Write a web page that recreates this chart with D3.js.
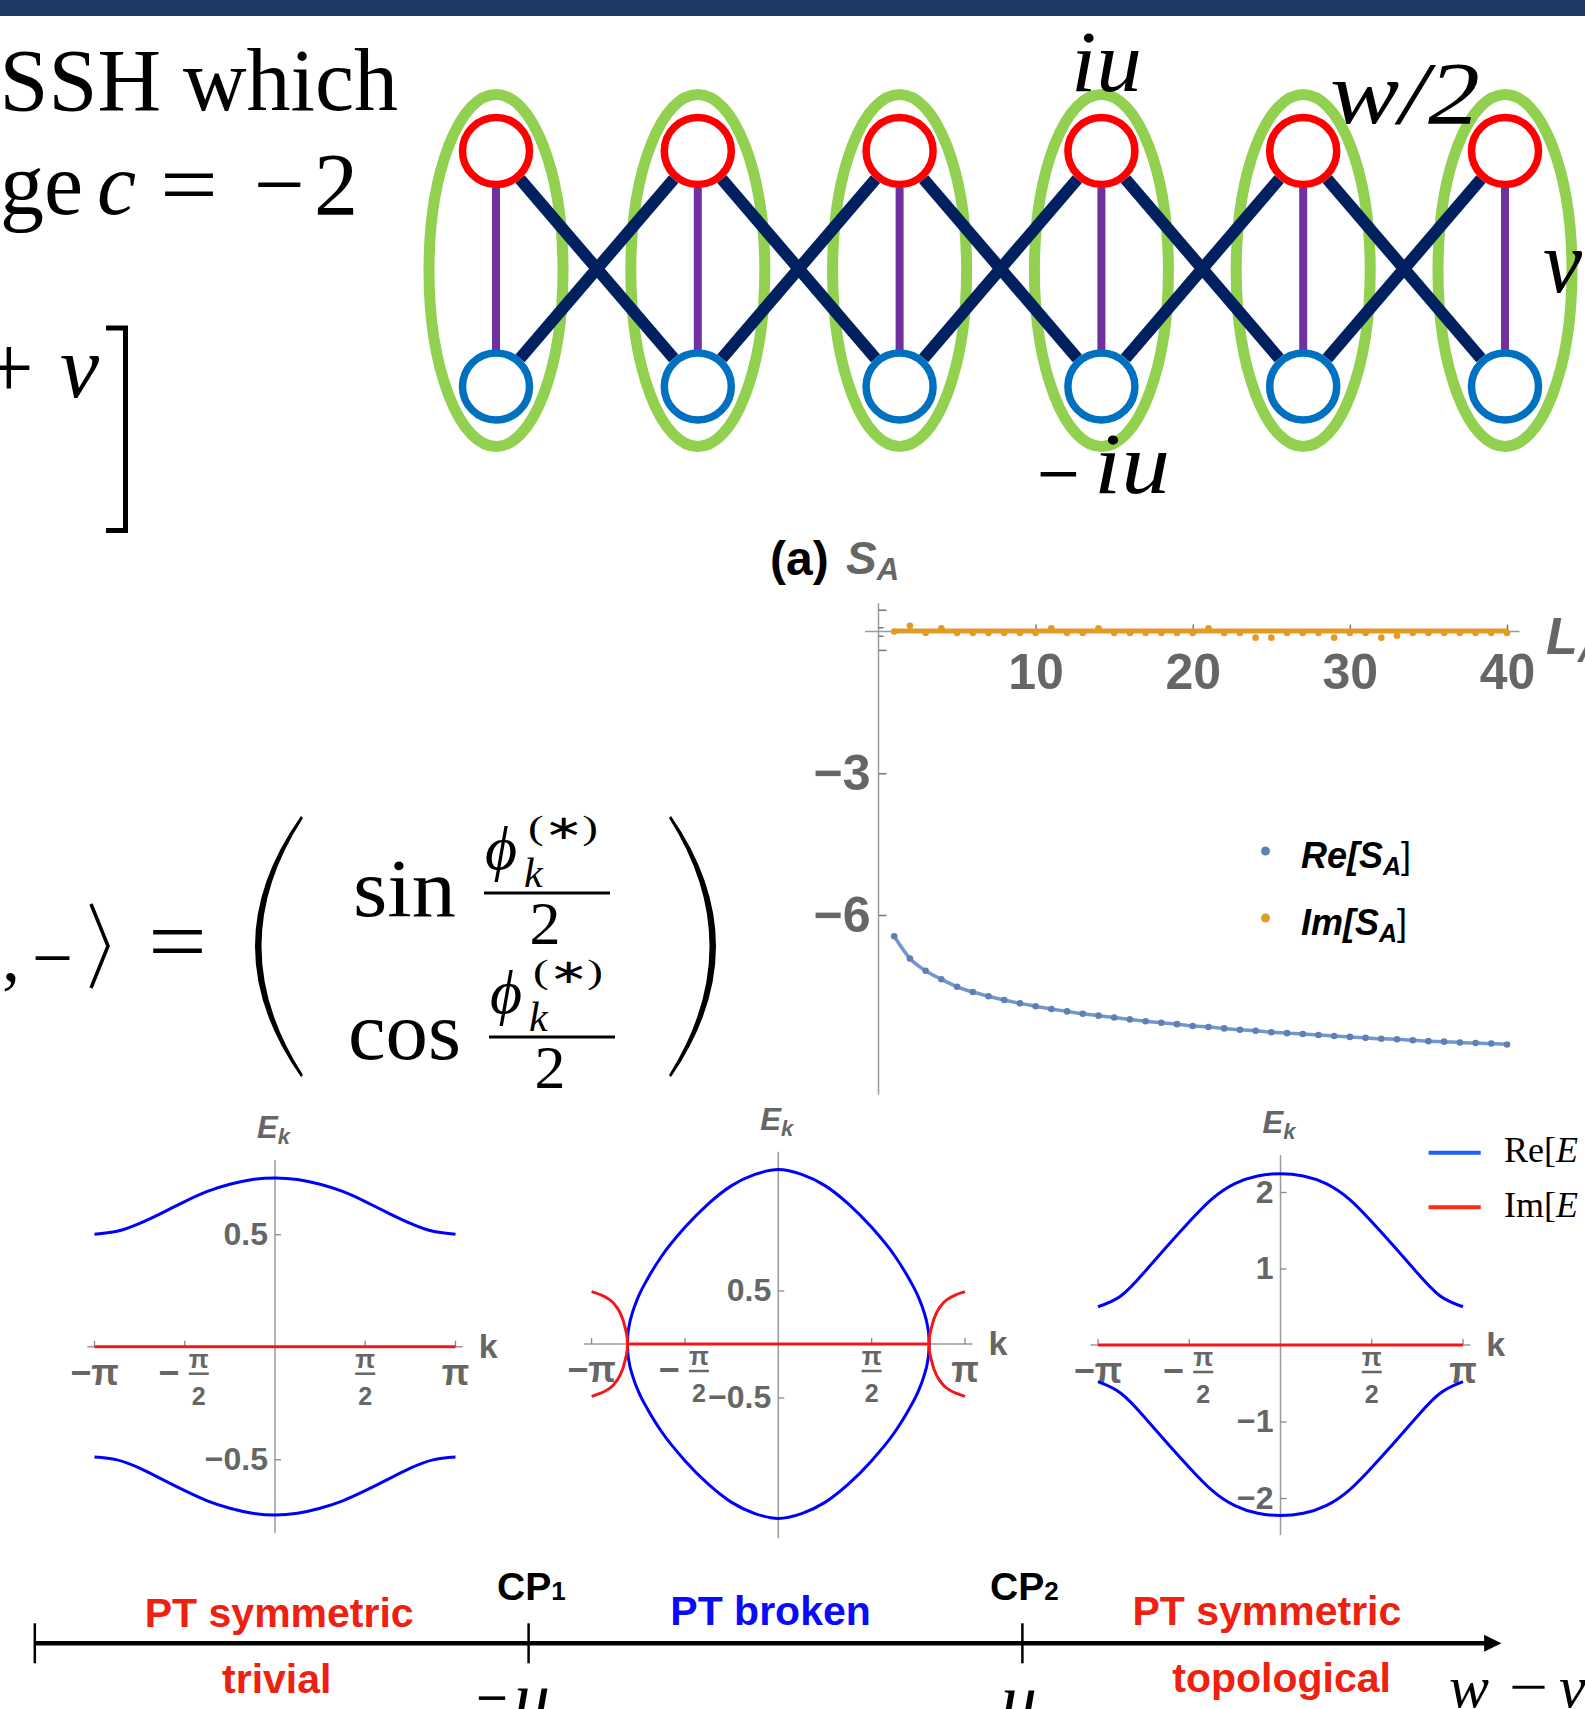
<!DOCTYPE html>
<html>
<head>
<meta charset="utf-8">
<script src="https://cdn.jsdelivr.net/npm/d3@7"></script>
<style>
  body { margin: 0; background: #fff; }
  svg { display: block; }
</style>
</head>
<body>
<svg></svg>
<script>
const width = 1585;
const height = 1709;

const svg = d3.select("svg").attr("width", width).attr("height", height);

const sans = "'Liberation Sans', Arial, Helvetica, sans-serif";
const serif = "'Liberation Serif', 'Times New Roman', serif";
const tickGray = "#666";
const axisGray = "#9a9a9a";

// ---------------- data ----------------
// cells of the ladder
const cells = [0, 1, 2, 3, 4, 5];
const bonds = [[0, 1], [1, 2], [2, 3], [3, 4], [4, 5]];

// (a) S_A against L_A
const sizeL = [1, 2, 3, 4, 5, 6, 7, 8, 9, 10, 11, 12, 13, 14, 15, 16, 17, 18, 19, 20,
  21, 22, 23, 24, 25, 26, 27, 28, 29, 30, 31, 32, 33, 34, 35, 36, 37, 38, 39, 40];
const reSA = [-6.45, -6.92, -7.18, -7.36, -7.52, -7.63, -7.72, -7.80, -7.87, -7.93,
  -7.99, -8.04, -8.09, -8.13, -8.17, -8.21, -8.25, -8.28, -8.31, -8.35,
  -8.37, -8.40, -8.43, -8.45, -8.48, -8.50, -8.52, -8.54, -8.56, -8.58,
  -8.60, -8.62, -8.63, -8.65, -8.67, -8.68, -8.70, -8.71, -8.72, -8.74];
const imSA = [0.0, 0.12, -0.03, 0.07, -0.03, -0.03, -0.03, -0.03, -0.03, -0.03,
  0.07, -0.03, -0.03, 0.07, -0.03, -0.03, -0.03, -0.03, -0.03, -0.03,
  0.07, -0.03, -0.03, -0.13, -0.13, -0.03, -0.03, -0.03, -0.13, -0.03,
  -0.03, -0.13, -0.09, -0.03, -0.03, -0.03, -0.03, -0.03, -0.03, -0.03];
const imFitL = [1, 40];
const imFit = [0.01, 0.01];
const saXTicks = [10, 20, 30, 40];
const saYTicks = [-3, -6];
const saMinorTicks = [0.45, 0.08, -0.1, -0.4];

// band plots, k in units of pi
const kTicks = [-1, -0.5, 0.5, 1];
const bandK = [-1, -0.875, -0.75, -0.625, -0.5, -0.375, -0.25, -0.125, 0,
  0.125, 0.25, 0.375, 0.5, 0.625, 0.75, 0.875, 1];
const trivialUp = [0.50, 0.513, 0.548, 0.595, 0.645, 0.69, 0.722, 0.743, 0.75,
  0.743, 0.722, 0.69, 0.645, 0.595, 0.548, 0.513, 0.50];
const trivialDown = [-0.49, -0.503, -0.54, -0.59, -0.64, -0.685, -0.718, -0.74, -0.748,
  -0.74, -0.718, -0.685, -0.64, -0.59, -0.54, -0.503, -0.49];
const topoUp = [0.50, 0.64, 0.94, 1.28, 1.61, 1.91, 2.11, 2.21, 2.24,
  2.21, 2.11, 1.91, 1.61, 1.28, 0.94, 0.64, 0.50];
const topoDown = [-0.48, -0.63, -0.93, -1.27, -1.60, -1.90, -2.10, -2.20, -2.23,
  -2.20, -2.10, -1.90, -1.60, -1.27, -0.93, -0.63, -0.48];
const flatK = [-1, 1];
const flatE = [0, 0];

// PT broken: Re band (upper and lower halves), then the Im branches
const brokenK = [-0.808, -0.806, -0.80, -0.78, -0.75, -0.70, -0.625, -0.5, -0.375, -0.25, -0.125, 0,
  0.125, 0.25, 0.375, 0.5, 0.625, 0.70, 0.75, 0.78, 0.80, 0.806, 0.808];
const brokenUp = [0, 0.08, 0.16, 0.30, 0.44, 0.61, 0.82, 1.09, 1.31, 1.48, 1.585, 1.63,
  1.585, 1.48, 1.31, 1.09, 0.82, 0.61, 0.44, 0.30, 0.16, 0.08, 0];
const brokenDown = [0, -0.08, -0.16, -0.30, -0.44, -0.61, -0.82, -1.09, -1.31, -1.48, -1.585, -1.63,
  -1.585, -1.48, -1.31, -1.09, -0.82, -0.61, -0.44, -0.30, -0.16, -0.08, 0];
const imRightK = [1, 0.95, 0.90, 0.86, 0.835, 0.82, 0.81, 0.808, 0.81, 0.82, 0.835, 0.86, 0.90, 0.95, 1];
const imRightE = [0.49, 0.46, 0.41, 0.33, 0.24, 0.15, 0.07, 0, -0.07, -0.15, -0.24, -0.33, -0.41, -0.46, -0.49];
const imLeftK = [-1, -0.95, -0.90, -0.86, -0.835, -0.82, -0.81, -0.808, -0.81, -0.82, -0.835, -0.86, -0.90, -0.95, -1];
const imLeftE = [0.49, 0.46, 0.41, 0.33, 0.24, 0.15, 0.07, 0, -0.07, -0.15, -0.24, -0.33, -0.41, -0.46, -0.49];
const imFlatK = [-0.808, 0.808];
const imFlatE = [0, 0];

// phase line
const phaseTicks = [-3, -1, 1];

// ---------------- top bar ----------------
svg.append("rect").attr("x", 0).attr("y", 0).attr("width", width).attr("height", 16)
  .attr("fill", "#203864");

// ---------------- left text ----------------
svg.append("text").attr("x", 398).attr("y", 110).attr("text-anchor", "end")
  .attr("font-family", serif).attr("font-size", 88).text("SSH which");

const line2 = svg.append("text").attr("y", 214).attr("font-family", serif).attr("font-size", 88);
line2.append("tspan").attr("x", 0).text("ge");
line2.append("tspan").attr("x", 97).attr("font-style", "italic").text("c");
line2.append("tspan").attr("x", 160).attr("textLength", 58).attr("lengthAdjust", "spacingAndGlyphs").text("=");
line2.append("tspan").attr("x", 254).attr("textLength", 51).attr("lengthAdjust", "spacingAndGlyphs").text("−");
line2.append("tspan").attr("x", 314).text("2");

const line3 = svg.append("text").attr("y", 397).attr("font-family", serif).attr("font-size", 88);
line3.append("tspan").attr("x", -16).text("+");
line3.append("tspan").attr("x", 60).attr("font-style", "italic").text("v");

svg.append("path").attr("d", "M106,328 H125.5 V530.5 H106")
  .attr("fill", "none").attr("stroke", "#000").attr("stroke-width", 5);

// ket formula
svg.append("text").attr("x", 2).attr("y", 980).attr("font-family", serif).attr("font-size", 72).text(",");
svg.append("text").attr("x", 32).attr("y", 982).attr("font-family", serif).attr("font-size", 72)
  .attr("textLength", 41).attr("lengthAdjust", "spacingAndGlyphs").text("−");
svg.append("path").attr("d", "M91,904 L108,946 L91,988")
  .attr("fill", "none").attr("stroke", "#000").attr("stroke-width", 3.5);
svg.append("text").attr("x", 148).attr("y", 972).attr("font-family", serif).attr("font-size", 92)
  .attr("textLength", 59).attr("lengthAdjust", "spacingAndGlyphs").text("=");

svg.append("path")
  .attr("d", "M301,816 Q209,946 301,1077 L303,1075 Q220,946 303,818 Z")
  .attr("fill", "#000");
svg.append("path")
  .attr("d", "M671,816 Q761,946 671,1077 L669,1075 Q750,946 669,818 Z")
  .attr("fill", "#000");

function fracRow(word, wx, wlen, base, barY, x0) {
  svg.append("text").attr("x", wx).attr("y", base).attr("font-family", serif).attr("font-size", 82)
    .attr("textLength", wlen).attr("lengthAdjust", "spacingAndGlyphs").text(word);
  svg.append("line").attr("x1", x0).attr("x2", x0 + 126).attr("y1", barY).attr("y2", barY)
    .attr("stroke", "#000").attr("stroke-width", 3);
  svg.append("text").attr("x", x0 + 1).attr("y", barY - 24).attr("font-family", serif)
    .attr("font-style", "italic").attr("font-size", 62).text("ϕ");
  svg.append("text").attr("x", x0 + 40).attr("y", barY - 6).attr("font-family", serif)
    .attr("font-style", "italic").attr("font-size", 42).text("k");
  svg.append("text").attr("x", x0 + 44).attr("y", barY - 54).attr("font-family", serif)
    .attr("font-size", 34).attr("textLength", 70).attr("lengthAdjust", "spacingAndGlyphs").text("(∗)");
  svg.append("text").attr("x", x0 + 61).attr("y", barY + 51).attr("text-anchor", "middle")
    .attr("font-family", serif).attr("font-size", 62).text("2");
}
fracRow("sin", 353, 103, 916, 893, 484);
fracRow("cos", 348, 113, 1059, 1037, 489);

// ---------------- ladder ----------------
const lx = d3.scaleLinear().domain([0, 5]).range([496, 1505]);
const cellY = 270.5, redY = 151, blueY = 386.5, siteR = 33.5;

svg.selectAll(".cell").data(cells).enter().append("ellipse")
  .attr("cx", d => lx(d)).attr("cy", cellY).attr("rx", 67).attr("ry", 176)
  .attr("fill", "none").attr("stroke", "#92d050").attr("stroke-width", 11);

const trim = 37;
function bondLine(xa, ya, xb, yb) {
  const dx = xb - xa, dy = yb - ya, len = Math.hypot(dx, dy);
  svg.append("line")
    .attr("x1", xa + dx / len * trim).attr("y1", ya + dy / len * trim)
    .attr("x2", xb - dx / len * trim).attr("y2", yb - dy / len * trim)
    .attr("stroke", "#002060").attr("stroke-width", 12);
}
bonds.forEach(b => {
  bondLine(lx(b[0]), redY, lx(b[1]), blueY);
  bondLine(lx(b[0]), blueY, lx(b[1]), redY);
});

svg.selectAll(".rung").data(cells).enter().append("line")
  .attr("x1", d => lx(d)).attr("x2", d => lx(d)).attr("y1", redY + siteR + 3).attr("y2", blueY - siteR - 3)
  .attr("stroke", "#7030a0").attr("stroke-width", 8);

svg.selectAll(".siteA").data(cells).enter().append("circle")
  .attr("cx", d => lx(d)).attr("cy", redY).attr("r", siteR)
  .attr("fill", "#fff").attr("stroke", "#ff0000").attr("stroke-width", 7.5);
svg.selectAll(".siteB").data(cells).enter().append("circle")
  .attr("cx", d => lx(d)).attr("cy", blueY).attr("r", siteR)
  .attr("fill", "#fff").attr("stroke", "#0070c0").attr("stroke-width", 7.5);

svg.append("text").attr("x", 1071).attr("y", 91).attr("font-family", serif).attr("font-style", "italic")
  .attr("font-size", 86).attr("textLength", 71).attr("lengthAdjust", "spacingAndGlyphs").text("iu");
svg.append("text").attr("x", 1330).attr("y", 123).attr("font-family", serif).attr("font-style", "italic")
  .attr("font-size", 88).attr("textLength", 150).attr("lengthAdjust", "spacingAndGlyphs").text("w/2");
svg.append("text").attr("x", 1543).attr("y", 292).attr("font-family", serif).attr("font-style", "italic")
  .attr("font-size", 88).text("v");
svg.append("text").attr("x", 1037).attr("y", 503).attr("font-family", serif).attr("font-size", 86)
  .attr("textLength", 43).attr("lengthAdjust", "spacingAndGlyphs").text("−");
svg.append("text").attr("x", 1094).attr("y", 493).attr("font-family", serif).attr("font-size", 86)
  .attr("font-style", "italic").attr("textLength", 76).attr("lengthAdjust", "spacingAndGlyphs").text("iu");

// ---------------- (a) S_A ----------------
const xa = d3.scaleLinear().domain([0, 40]).range([878.5, 1507]);
const ya = d3.scaleLinear().domain([0, -6]).range([631.5, 915]);

const ga = svg.append("g");
ga.append("line").attr("x1", xa(-0.85)).attr("x2", xa(40.8)).attr("y1", ya(0)).attr("y2", ya(0))
  .attr("stroke", axisGray).attr("stroke-width", 1.5);
ga.append("line").attr("x1", xa(0)).attr("x2", xa(0)).attr("y1", ya(0.6)).attr("y2", ya(-9.8))
  .attr("stroke", axisGray).attr("stroke-width", 1.5);

const xAxisA = d3.axisBottom(xa).tickValues(saXTicks).tickSizeInner(-7).tickSizeOuter(0).tickPadding(22);
ga.append("g").attr("transform", `translate(0,${ya(0)})`).call(xAxisA)
  .call(g => g.select(".domain").remove())
  .call(g => g.selectAll("line").attr("stroke", "#777").attr("stroke-width", 1.5))
  .call(g => g.selectAll("text").attr("fill", tickGray).attr("font-family", sans)
    .attr("font-weight", "bold").attr("font-size", 50));

const yAxisA = d3.axisLeft(ya).tickValues(saYTicks).tickFormat(d3.format("d"))
  .tickSizeInner(-8).tickSizeOuter(0).tickPadding(8);
ga.append("g").attr("transform", `translate(${xa(0)},0)`).call(yAxisA)
  .call(g => g.select(".domain").remove())
  .call(g => g.selectAll("line").attr("stroke", "#777").attr("stroke-width", 1.5))
  .call(g => g.selectAll("text").attr("fill", tickGray).attr("font-family", sans)
    .attr("font-weight", "bold").attr("font-size", 50));

ga.selectAll(".minor").data(saMinorTicks).enter().append("line")
  .attr("x1", xa(0)).attr("x2", (d, i) => xa(0) + (i === 0 || i === 3 ? 8 : 5))
  .attr("y1", d => ya(d)).attr("y2", d => ya(d))
  .attr("stroke", "#777").attr("stroke-width", 1.5);

const reLine = d3.line().x(d => xa(d[0])).y(d => ya(d[1])).curve(d3.curveMonotoneX);
ga.append("path").datum(d3.zip(sizeL, reSA)).attr("d", reLine)
  .attr("fill", "none").attr("stroke", "#7596cc").attr("stroke-width", 3.5);
ga.append("path").datum(d3.zip(imFitL, imFit)).attr("d", reLine)
  .attr("fill", "none").attr("stroke", "#e19c24").attr("stroke-width", 5);

ga.selectAll(".re").data(d3.zip(sizeL, reSA)).enter().append("circle")
  .attr("cx", d => xa(d[0])).attr("cy", d => ya(d[1])).attr("r", 3.3).attr("fill", "#5e81b5");
ga.selectAll(".im").data(d3.zip(sizeL, imSA)).enter().append("circle")
  .attr("cx", d => xa(d[0])).attr("cy", d => ya(d[1])).attr("r", 3.3).attr("fill", "#e19c24");

// legend
ga.append("circle").attr("cx", 1265.5).attr("cy", 851).attr("r", 4.5).attr("fill", "#5e81b5");
ga.append("circle").attr("cx", 1265.5).attr("cy", 918).attr("r", 4.5).attr("fill", "#e19c24");
function legendLabel(head, y) {
  const t = ga.append("text").attr("x", 1301).attr("y", y).attr("font-family", sans)
    .attr("font-weight", "bold").attr("font-style", "italic").attr("font-size", 36).attr("fill", "#000");
  t.append("tspan").text(head + "[S");
  t.append("tspan").attr("font-size", 25).attr("dy", 7).text("A");
  t.append("tspan").attr("dy", -7).attr("font-style", "normal").attr("font-weight", "normal").text("]");
}
legendLabel("Re", 868);
legendLabel("Im", 935);

// title and axis names
svg.append("text").attr("x", 770).attr("y", 575).attr("font-family", sans).attr("font-weight", "bold")
  .attr("font-size", 48).attr("fill", "#000").text("(a)");
const sa = svg.append("text").attr("x", 846).attr("y", 574).attr("font-family", sans)
  .attr("font-weight", "bold").attr("font-style", "italic").attr("font-size", 46).attr("fill", tickGray);
sa.append("tspan").text("S");
sa.append("tspan").attr("font-size", 31).attr("dy", 6).text("A");
const la = svg.append("text").attr("x", 1546).attr("y", 654).attr("font-family", sans)
  .attr("font-weight", "bold").attr("font-style", "italic").attr("font-size", 52).attr("fill", tickGray);
la.append("tspan").text("L");
la.append("tspan").attr("font-size", 36).attr("dy", 8).text("A");

// ---------------- band plots ----------------
const panels = [
  { x0: 275, y0: 1346.7, piW: 180.5, unit: 225, top: 1160, bottom: 1533, yTicks: [0.5, -0.5], fmt: ".1f" },
  { x0: 778.3, y0: 1344, piW: 186.7, unit: 107, top: 1151.7, bottom: 1538.3, yTicks: [0.5, -0.5], fmt: ".1f" },
  { x0: 1280.5, y0: 1345, piW: 182.5, unit: 76.5, top: 1155, bottom: 1535, yTicks: [2, 1, -1, -2], fmt: "d" }
];

function setupPanel(p) {
  const x = d3.scaleLinear().domain([-1, 1]).range([p.x0 - p.piW, p.x0 + p.piW]);
  const y = d3.scaleLinear().domain([0, 1]).range([p.y0, p.y0 - p.unit]);
  const g = svg.append("g");

  g.append("line").attr("x1", x(-1.04)).attr("x2", x(1.04)).attr("y1", p.y0).attr("y2", p.y0)
    .attr("stroke", axisGray).attr("stroke-width", 1.5);
  g.append("line").attr("x1", p.x0).attr("x2", p.x0).attr("y1", p.top).attr("y2", p.bottom)
    .attr("stroke", axisGray).attr("stroke-width", 1.5);

  const yAxis = d3.axisLeft(y).tickValues(p.yTicks).tickFormat(d3.format(p.fmt))
    .tickSizeInner(-6).tickSizeOuter(0).tickPadding(7);
  g.append("g").attr("transform", `translate(${p.x0},0)`).call(yAxis)
    .call(s => s.select(".domain").remove())
    .call(s => s.selectAll("line").attr("stroke", "#888").attr("stroke-width", 1.3))
    .call(s => s.selectAll("text").attr("fill", tickGray).attr("font-family", sans)
      .attr("font-weight", "bold").attr("font-size", 32));

  g.selectAll(".kt").data(kTicks).enter().append("line")
    .attr("x1", d => x(d)).attr("x2", d => x(d)).attr("y1", p.y0).attr("y2", p.y0 - 6)
    .attr("stroke", "#888").attr("stroke-width", 1.3);

  kTicks.forEach(k => {
    const tx = x(k);
    if (Math.abs(k) === 1) {
      g.append("text").attr("x", tx).attr("y", p.y0 + 38).attr("text-anchor", "middle")
        .attr("font-size", 36).attr("fill", tickGray).attr("font-family", sans)
        .attr("font-weight", "bold").text(k < 0 ? "−π" : "π");
    } else {
      const fx = k < 0 ? tx + 14 : tx;
      if (k < 0) {
        g.append("text").attr("x", tx - 16).attr("y", p.y0 + 38).attr("text-anchor", "middle")
          .attr("font-size", 36).attr("fill", tickGray).attr("font-family", sans)
          .attr("font-weight", "bold").text("−");
      }
      g.append("text").attr("x", fx).attr("y", p.y0 + 21).attr("text-anchor", "middle")
        .attr("font-size", 26).attr("fill", tickGray).attr("font-family", sans)
        .attr("font-weight", "bold").text("π");
      g.append("line").attr("x1", fx - 10).attr("x2", fx + 10).attr("y1", p.y0 + 27).attr("y2", p.y0 + 27)
        .attr("stroke", tickGray).attr("stroke-width", 2.5);
      g.append("text").attr("x", fx).attr("y", p.y0 + 58).attr("text-anchor", "middle")
        .attr("font-size", 25).attr("fill", tickGray).attr("font-family", sans)
        .attr("font-weight", "bold").text("2");
    }
  });

  g.append("text").attr("x", x(1.04) + 16).attr("y", p.y0 + 11).attr("font-family", sans)
    .attr("font-weight", "bold").attr("font-size", 34).attr("fill", tickGray).text("k");
  const ek = g.append("text").attr("x", p.x0 - 18).attr("y", p.top - 22).attr("font-family", sans)
    .attr("font-weight", "bold").attr("font-style", "italic").attr("font-size", 31).attr("fill", tickGray);
  ek.append("tspan").text("E");
  ek.append("tspan").attr("font-size", 22).attr("dy", 6).text("k");

  return { g, x, y };
}

const blue = "#0000ff";
const red = "#f01818";

panels.forEach((p, i) => {
  const { g, x, y } = setupPanel(p);
  const smooth = d3.line().x(d => x(d[0])).y(d => y(d[1])).curve(d3.curveNatural);
  const lineX = d3.line().x(d => x(d[0])).y(d => y(d[1])).curve(d3.curveMonotoneX);
  const lineY = d3.line().x(d => x(d[0])).y(d => y(d[1])).curve(d3.curveMonotoneY);
  const straight = d3.line().x(d => x(d[0])).y(d => y(d[1]));
  const draw = (pts, col, gen) => g.append("path").datum(pts).attr("d", gen)
    .attr("fill", "none").attr("stroke", col).attr("stroke-width", 3);
  if (i === 0) {
    draw(d3.zip(bandK, trivialUp), blue, smooth);
    draw(d3.zip(bandK, trivialDown), blue, smooth);
    draw(d3.zip(flatK, flatE), red, straight);
  } else if (i === 1) {
    draw(d3.zip(brokenK, brokenUp), blue, lineX);
    draw(d3.zip(brokenK, brokenDown), blue, lineX);
    draw(d3.zip(imFlatK, imFlatE), red, straight);
    draw(d3.zip(imRightK, imRightE), red, lineY);
    draw(d3.zip(imLeftK, imLeftE), red, lineY);
  } else {
    draw(d3.zip(bandK, topoUp), blue, smooth);
    draw(d3.zip(bandK, topoDown), blue, smooth);
    draw(d3.zip(flatK, flatE), red, straight);
  }
});

// legend of the band plots
svg.append("line").attr("x1", 1428.6).attr("x2", 1480.7).attr("y1", 1152.7).attr("y2", 1152.7)
  .attr("stroke", "#1f5fff").attr("stroke-width", 4);
svg.append("line").attr("x1", 1428.6).attr("x2", 1480.7).attr("y1", 1207.3).attr("y2", 1207.3)
  .attr("stroke", "#ff2a12").attr("stroke-width", 4);
function bandLegend(head, y) {
  const t = svg.append("text").attr("x", 1504).attr("y", y).attr("font-family", serif).attr("font-size", 36);
  t.append("tspan").text(head + "[");
  t.append("tspan").attr("font-style", "italic").text("E");
}
bandLegend("Re", 1162);
bandLegend("Im", 1217);

// ---------------- phase line ----------------
const px = d3.scaleLinear().domain([-1, 1]).range([528.6, 1022.4]);
const lineYp = 1643.3;
svg.append("line").attr("x1", px(-3)).attr("x2", px(2.9)).attr("y1", lineYp).attr("y2", lineYp)
  .attr("stroke", "#000").attr("stroke-width", 4.5);
svg.append("path")
  .attr("d", `M${px(2.87)},${lineYp - 8.5} L${px(2.94)},${lineYp} L${px(2.87)},${lineYp + 8.5} Z`)
  .attr("fill", "#000");
svg.selectAll(".pt").data(phaseTicks).enter().append("line")
  .attr("x1", d => px(d)).attr("x2", d => px(d)).attr("y1", lineYp - 20).attr("y2", lineYp + 20)
  .attr("stroke", "#000").attr("stroke-width", 2.5);

function phaseText(txt, v, y, col) {
  svg.append("text").attr("x", px(v)).attr("y", y).attr("text-anchor", "middle")
    .attr("font-family", sans).attr("font-weight", "bold").attr("font-size", 41)
    .attr("fill", col).text(txt);
}
phaseText("PT symmetric", -2.01, 1626.5, "#f02010");
phaseText("trivial", -2.02, 1693, "#f02010");
phaseText("PT broken", -0.02, 1625, "#0a0aff");
phaseText("PT symmetric", 1.99, 1625, "#f02010");
phaseText("topological", 2.05, 1691.5, "#f02010");

function cpLabel(n, x) {
  const t = svg.append("text").attr("x", x).attr("y", 1600).attr("font-family", sans)
    .attr("font-weight", "bold").attr("font-size", 39).attr("fill", "#000");
  t.append("tspan").text("CP");
  t.append("tspan").attr("font-size", 26).text(n);
}
cpLabel("1", 497);
cpLabel("2", 990);

const mu = svg.append("text").attr("y", 1722).attr("font-family", serif).attr("font-size", 72);
mu.append("tspan").attr("x", 476).attr("textLength", 32).attr("lengthAdjust", "spacingAndGlyphs").text("−");
mu.append("tspan").attr("x", 514).attr("font-style", "italic").text("u");
svg.append("text").attr("x", 1001).attr("y", 1724).attr("font-family", serif).attr("font-style", "italic")
  .attr("font-size", 72).text("u");
const wv = svg.append("text").attr("y", 1706.5).attr("font-family", serif).attr("font-size", 60);
wv.append("tspan").attr("x", 1449).attr("font-style", "italic").text("w");
wv.append("tspan").attr("x", 1509).attr("textLength", 39).attr("lengthAdjust", "spacingAndGlyphs").text("−");
wv.append("tspan").attr("x", 1559).attr("font-style", "italic").text("v");
</script>
</body>
</html>
